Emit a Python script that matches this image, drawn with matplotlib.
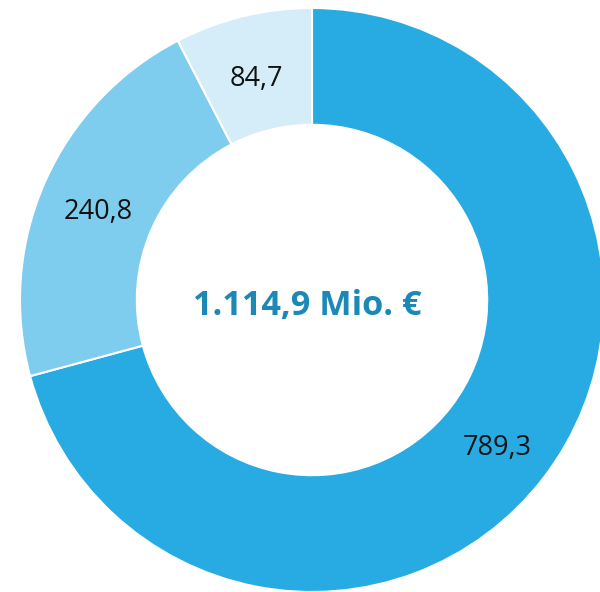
import matplotlib.pyplot as plt

values = [789.3, 240.8, 84.7]
labels = ["789,3", "240,8", "84,7"]
colors = ["#27abe2", "#7ecdee", "#d4edf9"]
total_label = "1.114,9 Mio. €"

fig = plt.figure(figsize=(6, 5.92), dpi=100)
ax = fig.add_axes([0, 0, 1, 1])

wedges, texts = ax.pie(
    values,
    labels=labels,
    colors=colors,
    startangle=90,
    counterclock=False,
    labeldistance=0.8,
    radius=1.0,
    wedgeprops=dict(width=0.4, edgecolor="white", linewidth=1.5),
    textprops=dict(fontsize=19.5, color="#111111", family="Open Sans"),
)
# labels sit a little lower in the original
for t in texts:
    x, y = t.get_position()
    t.set_position((x, y - 0.02))
    t.set_horizontalalignment("center")
    t.set_verticalalignment("center")

ax.text(-0.016, -0.02, total_label, ha="center", va="center", fontsize=24.7,
        fontweight="bold", color="#1b88b6", family="Open Sans")

ax.set_xlim(-312 / 292, 288 / 292)
ax.set_ylim(-292 / 292, 300 / 292)
ax.set_aspect("equal")
ax.axis("off")

fig.savefig("out.png", dpi=100)
